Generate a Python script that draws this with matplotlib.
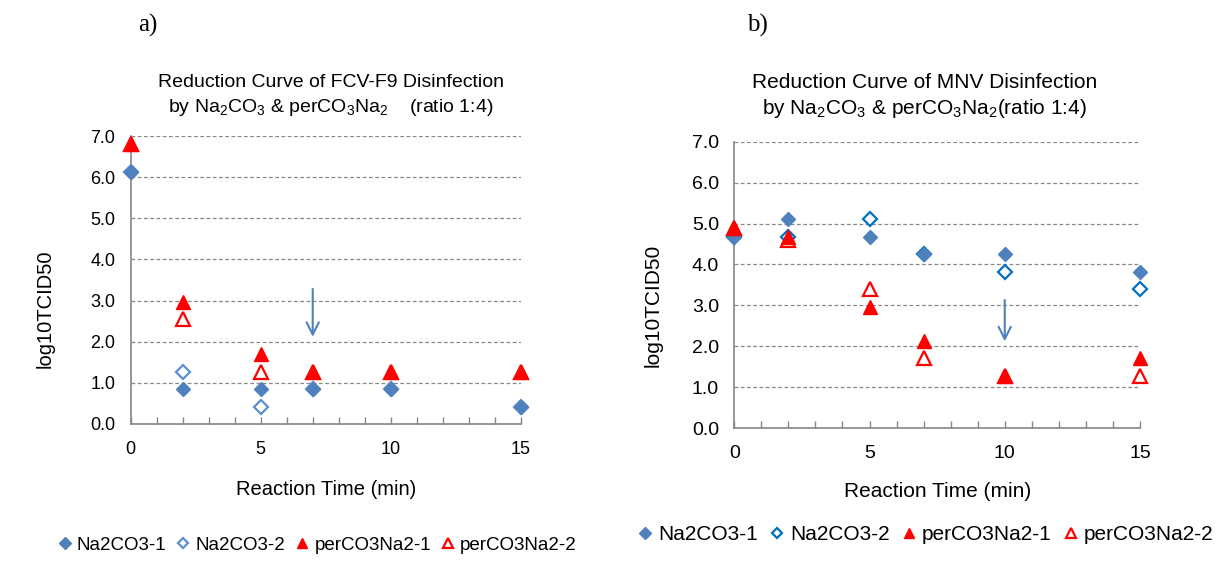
import matplotlib.pyplot as plt
import numpy as np

plt.rcParams['font.family'] = ['Liberation Sans', 'DejaVu Sans']
plt.rcParams['mathtext.default'] = 'regular'

# 数据
time = [0, 2, 5, 7, 10, 15]
series_names = ['Na2CO3-1', 'Na2CO3-2', 'perCO3Na2-1', 'perCO3Na2-2']

fcv_na1 = [6.13, 0.85, 0.85, 0.85, 0.85, 0.42]
fcv_na2 = [6.13, 1.27, 0.42, 0.85, 0.85, 0.42]
fcv_per1 = [6.8, 2.97, 1.7, 1.27, 1.27, 1.27]
fcv_per2 = [6.8, 2.55, 1.27, 1.27, 1.27, 1.27]

mnv_na1 = [4.67, 5.1, 4.67, 4.25, 4.25, 3.82]
mnv_na2 = [4.67, 4.67, 5.1, 4.25, 3.82, 3.4]
mnv_per1 = [4.9, 4.67, 2.97, 2.12, 1.27, 1.7]
mnv_per2 = [4.9, 4.6, 3.4, 1.7, 1.27, 1.27]

fcv_arrow = [7, 3.35, 2.05]   # x, y起点, y终点
mnv_arrow = [10, 3.2, 2.05]

fcv_title = ['Reduction Curve of FCV-F9 Disinfection',
             'by Na$_2$CO$_3$ & perCO$_3$Na$_2$    (ratio 1:4)']
mnv_title = ['Reduction Curve of MNV Disinfection',
             'by Na$_2$CO$_3$ & perCO$_3$Na$_2$(ratio 1:4)']

blue = '#4F81BD'
red = '#FF0000'
grey = '#868686'

fig = plt.figure(figsize=(12.25, 5.66), dpi=100)
ax1 = fig.add_axes([0.1067, 0.2509, 0.3184, 0.5088])
ax2 = fig.add_axes([0.5994, 0.2438, 0.3312, 0.5058])


def draw(ax, ys, hollow_blue, arrow, fs, tick_fs, xlab_y, ylab_x, ylab_y):
    h = [None] * 4
    # 空心的先画, 实心的盖在上面
    h[1], = ax.plot(time, ys[1], 'D', ms=7, mfc='white', mec=hollow_blue, mew=1.6, ls='none', clip_on=False, zorder=3)
    h[0], = ax.plot(time, ys[0], 'D', ms=7.5, color=blue, mec=blue, ls='none', clip_on=False, zorder=4)
    h[3], = ax.plot(time, ys[3], '^', ms=9.5, mfc='white', mec=red, mew=1.6, ls='none', clip_on=False, zorder=5)
    h[2], = ax.plot(time, ys[2], '^', ms=10, color=red, ls='none', clip_on=False, zorder=6)
    ax.set_xlim(0, 15)
    ax.set_ylim(0, 7)
    ax.set_xticks([0, 5, 10, 15])
    ax.set_xticks(np.arange(0, 16, 1), minor=True)
    ax.set_yticks(np.arange(0, 7.5, 1))
    ax.set_yticklabels(['%.1f' % v for v in np.arange(0, 7.5, 1)])
    ax.tick_params(axis='x', which='both', direction='in', length=5, color=grey, width=1, labelsize=tick_fs, pad=12)
    ax.tick_params(axis='y', length=0, labelsize=tick_fs, pad=11)
    for s in ['top', 'right']:
        ax.spines[s].set_visible(False)
    for s in ['left', 'bottom']:
        ax.spines[s].set_color(grey)
        ax.spines[s].set_linewidth(1.2)
    ax.yaxis.grid(True, ls=(0, (3, 2)), color='#888888', lw=0.9)
    ax.set_axisbelow(True)
    ax.set_xlabel('Reaction Time (min)', fontsize=fs)
    ax.xaxis.set_label_coords(0.5, xlab_y)
    ax.set_ylabel('log10TCID50', fontsize=fs)
    ax.yaxis.set_label_coords(ylab_x, ylab_y)
    ax.annotate('', xy=(arrow[0], arrow[2]), xytext=(arrow[0], arrow[1]),
                arrowprops=dict(arrowstyle='->', color=blue, lw=1.5, mutation_scale=22))
    return h


h1 = draw(ax1, [fcv_na1, fcv_na2, fcv_per1, fcv_per2], '#5B8FD0', fcv_arrow, 14.5, 13, -0.194, -0.194, 0.4)
h2 = draw(ax2, [mnv_na1, mnv_na2, mnv_per1, mnv_per2], '#0070C0', mnv_arrow, 15, 14, -0.189, -0.176, 0.43)

fig.text(331 / 1225, 1 - 83 / 566, fcv_title[0], ha='center', va='center', fontsize=14)
fig.text(331 / 1225, 1 - 108 / 566, fcv_title[1], ha='center', va='center', fontsize=14)
fig.text(925 / 1225, 1 - 82 / 566, mnv_title[0], ha='center', va='center', fontsize=15)
fig.text(925 / 1225, 1 - 108 / 566, mnv_title[1], ha='center', va='center', fontsize=15)
fig.text(0.113, 1 - 25 / 566, 'a)', family='Liberation Serif', fontsize=18, va='center')
fig.text(0.610, 1 - 25 / 566, 'b)', family='Liberation Serif', fontsize=18, va='center')

kw = dict(ncol=4, frameon=False, loc='center', markerscale=0.75,
          handlelength=0.8, handletextpad=0.25, columnspacing=0.5, borderaxespad=0)
fig.legend(h1, series_names, bbox_to_anchor=(317 / 1225, 1 - 545 / 566), fontsize=13.5, **kw)
fig.legend(h2, series_names, bbox_to_anchor=(925 / 1225, 1 - 535 / 566), fontsize=15, **kw)

plt.savefig('out.png', dpi=100)
